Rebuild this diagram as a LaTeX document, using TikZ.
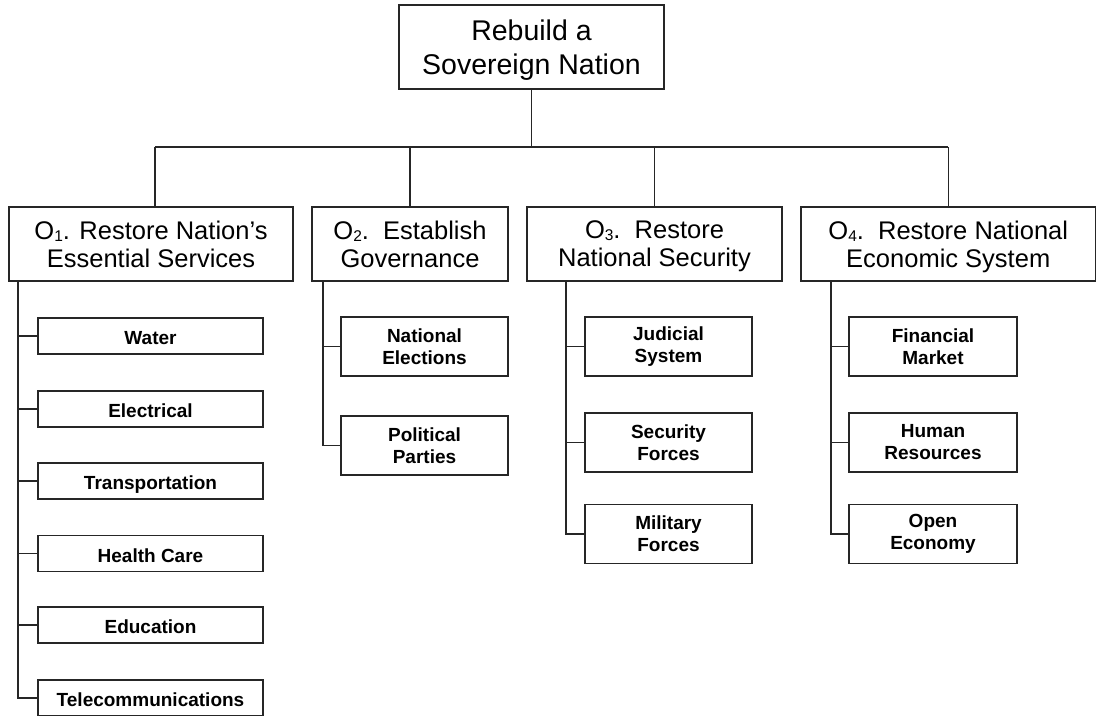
\documentclass[tikz,border=0pt]{standalone}
\usepackage{fontspec}
\setmainfont{Liberation Sans}
\newcommand{\osub}[1]{\raisebox{-2pt}{\fontsize{15.5}{15.5}\selectfont #1}}
\begin{document}
\begin{tikzpicture}[x=1pt,y=-1pt,
  box/.style={draw=black!85, line width=1.1pt, inner sep=0pt, align=center, fill=white},
  rootbox/.style={box, text depth=0pt, font=\fontsize{28.5}{34}\selectfont},
  obox/.style={box, minimum height=74, text depth=0pt, font=\fontsize{25.5}{28}\selectfont},
  leaf/.style={box, font=\fontsize{19}{22}\selectfont\bfseries},
  leafa/.style={leaf, minimum width=225, minimum height=36, text height=17.5pt, text depth=0pt},
  leafb/.style={leaf, minimum width=167, minimum height=59},
  conn/.style={draw=black!85, line width=1.1pt}]
\useasboundingbox (0,0) rectangle (1097,715);
\clip (0,0) rectangle (1097,715);
\fill[white] (0,0) rectangle (1097,715);

\node[rootbox, minimum width=265, minimum height=84] (root) at (531.5,47) {Rebuild a\\Sovereign Nation};

\node[obox, minimum width=284] (o1) at (151,244) {O\osub{1}. Restore Nation’s\\Essential Services};
\node[obox, minimum width=196] (o2) at (410,244) {O\osub{2}.\ \ Establish\\Governance};
\node[obox, minimum width=255] (o3) at (654.5,244) {O\osub{3}.\ \ Restore\\National Security};
\node[obox, minimum width=294.5] (o4) at (948.25,244) {O\osub{4}.\ \ Restore National\\Economic System};

\coordinate (bus) at (0,147);
\draw[conn] (root.south) -- (root.south |- bus);
\draw[conn] (155,147) coordinate (b1) -- (o4.north |- bus);
\draw[conn] (b1) -- (b1 |- o1.north);
\foreach \o in {o2,o3,o4} \draw[conn] (\o.north |- bus) -- (\o.north);

% O1 children
\node[leafa] (a1) at (150.5,336) {Water};
\node[leafa] (a2) at (150.5,409) {Electrical};
\node[leafa] (a3) at (150.5,481) {Transportation};
\node[leafa] (a4) at (150.5,553.5) {Health Care};
\node[leafa] (a5) at (150.5,625) {Education};
\node[leafa] (a6) at (150.5,698) {Telecommunications};
\coordinate (s1) at (18,281);
\draw[conn] (s1) |- (a6.west);
\foreach \c in {a1,a2,a3,a4,a5} \draw[conn] (s1 |- \c.west) -- (\c.west);

% O2 children
\node[leafb] (g1) at (424.5,346.5) {National\\Elections};
\node[leafb] (g2) at (424.5,445.5) {Political\\Parties};
\coordinate (s2) at (323,281);
\draw[conn] (s2) |- (g2.west);
\draw[conn] (s2 |- g1.west) -- (g1.west);

% O3 children
\node[leafb] (h1) at (668.5,346.5) {Judicial\\System};
\node[leafb] (h2) at (668.5,442.5) {Security\\Forces};
\node[leafb] (h3) at (668.5,534) {Military\\Forces};
\coordinate (s3) at (566,281);
\draw[conn] (s3) |- (h3.west);
\foreach \c in {h1,h2} \draw[conn] (s3 |- \c.west) -- (\c.west);

% O4 children
\node[leafb, minimum width=168] (e1) at (933,346.5) {Financial\\Market};
\node[leafb, minimum width=168] (e2) at (933,442.5) {Human\\Resources};
\node[leafb, minimum width=168] (e3) at (933,534) {Open\\Economy};
\coordinate (s4) at (831,281);
\draw[conn] (s4) |- (e3.west);
\foreach \c in {e1,e2} \draw[conn] (s4 |- \c.west) -- (\c.west);
\end{tikzpicture}
\end{document}
